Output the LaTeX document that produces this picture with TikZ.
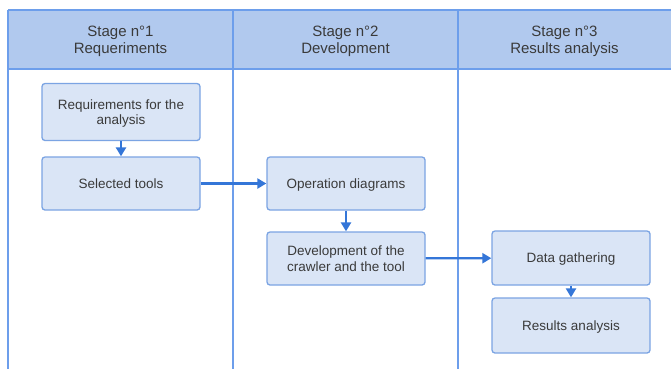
\documentclass[tikz,border=0pt]{standalone}
\usepackage{fontspec}
\setmainfont{Liberation Sans}
\usetikzlibrary{arrows.meta}
\definecolor{hdrfill}{HTML}{B1C9EE}
\definecolor{lanecol}{HTML}{6D9EEB}
\definecolor{boxfill}{HTML}{DAE5F6}
\definecolor{boxline}{HTML}{7BA4E3}
\definecolor{arrcol}{HTML}{3476D8}
\definecolor{txt}{HTML}{3A3A3A}
\tikzset{
  stepbox/.style={draw=boxline, fill=boxfill, line width=1.3pt, rounded corners=3pt,
    minimum width=158pt, minimum height=53pt, inner sep=2pt, align=center,
    text=txt, text depth=0pt, font=\fontsize{13.5}{15.5}\selectfont},
  hdr/.style={align=center, text=txt, font=\fontsize{15}{17}\selectfont},
  flow/.style={draw=arrcol, line width=2.3pt, -{Triangle[length=9pt,width=10pt]}},
  lane/.style={draw=lanecol, line width=1.5pt}
}
\begin{document}
\begin{tikzpicture}[x=1pt,y=-1pt]
\useasboundingbox (0,0) rectangle (671,368);
\fill[white] (0,0) rectangle (671,368);
\fill[hdrfill] (8,10) rectangle (672,69);
\draw[lane] (8,10) -- (672,10);
\draw[lane] (8,69) -- (672,69);
\draw[lane] (8,10) -- (8,369);
\draw[lane] (233,10) -- (233,369);
\draw[lane] (458,10) -- (458,369);
\node[hdr] (h1) at (120.5,41) {Stage n°1\\Requeriments};
\node[hdr] (h2) at (345.5,41) {Stage n°2\\Development};
\node[hdr] (h3) at (564.5,41) {Stage n°3\\Results analysis};
\node[stepbox, minimum height=57pt] (req) at (121,112) {Requirements for the\\analysis};
\node[stepbox] (sel) at (121,183.5) {Selected tools};
\node[stepbox] (op) at (346,183.5) {Operation diagrams};
\node[stepbox] (dev) at (346,258.5) {Development of the\\crawler and the tool};
\node[stepbox, minimum height=54pt] (data) at (571,258) {Data gathering};
\node[stepbox, minimum height=55pt] (res) at (571,325.5) {Results analysis};
\draw[flow] (req) -- (sel);
\draw[flow] (sel) -- (op);
\draw[flow] (op) -- (dev);
\draw[flow] (dev) -- (data);
\draw[flow] (data) -- (res);
\end{tikzpicture}
\end{document}
